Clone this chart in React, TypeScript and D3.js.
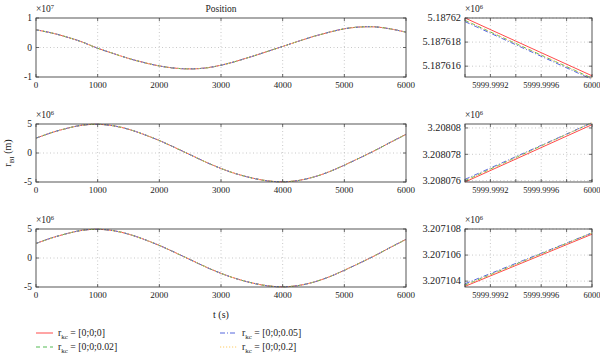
import React from "react";
import * as d3 from "d3";

// ---------- data (values in units of 1e6 m) ----------
const tFull = [0, 250, 500, 750, 1000, 1250, 1500, 1750, 2000, 2250, 2500, 2750, 3000, 3250, 3500, 3750, 4000, 4250, 4500, 4750, 5000, 5250, 5500, 5750, 6000];
const posX = [6.0, 4.95, 3.55, 1.85, -0.25, -2.0, -3.7, -5.1, -6.25, -7.0, -7.25, -6.95, -6.0, -4.65, -3.05, -1.35, 0.35, 2.1, 3.75, 5.15, 6.35, 6.95, 7.0, 6.3, 5.19];
const posY = [2.56, 3.5, 4.25, 4.8, 4.95, 4.7, 4.1, 3.2, 2.15, 0.95, -0.3, -1.55, -2.67, -3.6, -4.3, -4.8, -4.97, -4.75, -4.15, -3.25, -2.1, -0.85, 0.45, 1.85, 3.21];
const posZ = [2.5, 3.45, 4.2, 4.78, 4.95, 4.72, 4.12, 3.22, 2.17, 0.97, -0.28, -1.53, -2.65, -3.58, -4.29, -4.79, -4.97, -4.76, -4.17, -3.27, -2.12, -0.87, 0.43, 1.84, 3.207];

const tZoom = [5999.999, 6000];
const zoomX_0 = [5.18762, 5.1876152];
const zoomX_002 = [5.1876198, 5.187615];
const zoomX_005 = [5.1876197, 5.1876149];
const zoomX_02 = [5.1876198, 5.187615];
const zoomY_0 = [3.2080759, 3.20808025];
const zoomY_002 = [3.208076, 3.2080804];
const zoomY_005 = [3.2080761, 3.2080804];
const zoomY_02 = [3.208076, 3.2080804];
const zoomZ_0 = [3.2071036, 3.2071076];
const zoomZ_002 = [3.2071037, 3.2071077];
const zoomZ_005 = [3.2071038, 3.2071077];
const zoomZ_02 = [3.2071037, 3.2071077];

const seriesNames = ["[0;0;0]", "[0;0;0.02]", "[0;0;0.05]", "[0;0;0.2]"];
const seriesColors = ["#ff4a4a", "#55bb55", "#5566dd", "#ffcc66"];
const seriesDash = ["", "4,3", "5,2,1,2", "1.2,1.8"];

const xTicksFull = [0, 1000, 2000, 3000, 4000, 5000, 6000];
const xLabelsFull = ["0", "1000", "2000", "3000", "4000", "5000", "6000"];
const xTicksZoom = [5999.999, 5999.9992, 5999.9994, 5999.9996, 5999.9998, 6000];
const xLabelsZoom = ["", "5999.9992", "", "5999.9996", "", "6000"];

const FONT = "Liberation Serif, serif";

type PanelProps = {
  x0: number; x1: number; y0: number; y1: number;
  xDomain: [number, number]; yDomain: [number, number];
  xTicks: number[]; xLabels: string[];
  yTicks: number[]; yLabels: string[];
  yGrid: number[];
  xs: number[]; ys: number[][];
  exp: string;
  xFont: number;
  yFont: number;
  curve: boolean;
};

function Panel(p: PanelProps) {
  const x = d3.scaleLinear().domain(p.xDomain).range([p.x0, p.x1]);
  const y = d3.scaleLinear().domain(p.yDomain).range([p.y1, p.y0]);
  const axisColor = "#444";
  const gridColor = "#bbb";
  return (
    <g>
      {p.xTicks.filter((t) => x(t) > p.x0 + 1 && x(t) < p.x1 - 1).map((t, i) => (
        <line key={"gx" + i} x1={x(t)} x2={x(t)} y1={p.y0} y2={p.y1} stroke={gridColor} strokeWidth={0.8} strokeDasharray="1,2.5" />
      ))}
      {p.yGrid.map((t, i) => (
        <line key={"gy" + i} x1={p.x0} x2={p.x1} y1={y(t)} y2={y(t)} stroke={gridColor} strokeWidth={0.8} strokeDasharray="1,2.5" />
      ))}
      {p.ys.map((vals, si) => {
        const line = d3.line<number>().x((_, i) => x(p.xs[i])).y((v) => y(v));
        if (p.curve) line.curve(d3.curveCatmullRom);
        return (
          <path key={"s" + si} d={line(vals) || ""} fill="none" stroke={seriesColors[si]} strokeWidth={1} strokeDasharray={seriesDash[si]} />
        );
      })}
      <rect x={p.x0} y={p.y0} width={p.x1 - p.x0} height={p.y1 - p.y0} fill="none" stroke={axisColor} strokeWidth={0.9} />
      {p.xTicks.map((t, i) => (
        <g key={"tx" + i}>
          <line x1={x(t)} x2={x(t)} y1={p.y1} y2={p.y1 - 3} stroke={axisColor} strokeWidth={0.8} />
          <line x1={x(t)} x2={x(t)} y1={p.y0} y2={p.y0 + 3} stroke={axisColor} strokeWidth={0.8} />
          <text x={x(t)} y={p.y1 + 11} textAnchor="middle" fontSize={p.xFont} fill="#222">{p.xLabels[i]}</text>
        </g>
      ))}
      {p.yTicks.map((t, i) => (
        <g key={"ty" + i}>
          <line x1={p.x0} x2={p.x0 + 3} y1={y(t)} y2={y(t)} stroke={axisColor} strokeWidth={0.8} />
          <line x1={p.x1} x2={p.x1 - 3} y1={y(t)} y2={y(t)} stroke={axisColor} strokeWidth={0.8} />
          <text x={p.x0 - 4} y={y(t) + 3.2} textAnchor="end" fontSize={p.yFont} fill="#222">{p.yLabels[i]}</text>
        </g>
      ))}
      <text x={p.x0} y={p.y0 - 6} fontSize={9.5} fill="#222">
        ×10<tspan dy={-3.5} fontSize={6.5}>{p.exp}</tspan>
      </text>
    </g>
  );
}

const rows = [
  { y0: 18, y1: 77 },
  { y0: 124, y1: 182 },
  { y0: 229, y1: 287 },
];

export default function App() {
  const L = { x0: 36, x1: 406 };
  const R = { x0: 465, x1: 592 };
  const leftData = [posX, posY, posZ];
  const leftDomains: [number, number][] = [[-10, 10], [-5, 5], [-5, 5]];
  const leftYTicks = [[-10, 0, 10], [-5, 0, 5], [-5, 0, 5]];
  const leftYLabels = [["-1", "0", "1"], ["-5", "0", "5"], ["-5", "0", "5"]];
  const leftExp = ["7", "6", "6"];
  const rightData = [
    [zoomX_0, zoomX_002, zoomX_005, zoomX_02],
    [zoomY_0, zoomY_002, zoomY_005, zoomY_02],
    [zoomZ_0, zoomZ_002, zoomZ_005, zoomZ_02],
  ];
  const rightDomains: [number, number][] = [[5.1876151, 5.18762], [3.2080759, 3.2080803], [3.20710355, 3.207108]];
  const rightYTicks = [[5.187616, 5.187618, 5.18762], [3.208076, 3.208078, 3.20808], [3.207104, 3.207106, 3.207108]];
  const rightYLabels = [["5.187616", "5.187618", "5.18762"], ["3.208076", "3.208078", "3.20808"], ["3.207104", "3.207106", "3.207108"]];

  const legendItems = [
    { i: 0, x: 36, y: 333 },
    { i: 1, x: 36, y: 347 },
    { i: 2, x: 220, y: 333 },
    { i: 3, x: 220, y: 347 },
  ];

  return (
    <svg width={600} height={355} fontFamily={FONT} style={{ position: "absolute", left: 0, top: 0, background: "#fff", fontFamily: FONT }}>
      <rect x={0} y={0} width={600} height={355} fill="#fff" />
      <text x={(L.x0 + L.x1) / 2} y={12} textAnchor="middle" fontSize={9.5} fill="#222">Position</text>
      {rows.map((r, k) => (
        <g key={"row" + k}>
          <Panel
            x0={L.x0} x1={L.x1} y0={r.y0} y1={r.y1}
            xDomain={[0, 6000]} yDomain={leftDomains[k]}
            xTicks={xTicksFull} xLabels={xLabelsFull}
            yTicks={leftYTicks[k]} yLabels={leftYLabels[k]} yGrid={[0]}
            xs={tFull} ys={[leftData[k], leftData[k], leftData[k], leftData[k]]}
            exp={leftExp[k]} xFont={9} yFont={9.5} curve={true}
          />
          <Panel
            x0={R.x0} x1={R.x1} y0={r.y0} y1={r.y1}
            xDomain={[5999.999, 6000]} yDomain={rightDomains[k]}
            xTicks={xTicksZoom} xLabels={xLabelsZoom}
            yTicks={rightYTicks[k]} yLabels={rightYLabels[k]} yGrid={rightYTicks[k]}
            xs={tZoom} ys={rightData[k]}
            exp="6" xFont={8.5} yFont={10.3} curve={false}
          />
        </g>
      ))}
      <text transform={`translate(11,${(rows[1].y0 + rows[1].y1) / 2}) rotate(-90)`} textAnchor="middle" fontSize={10} fill="#222">
        r<tspan dy={2.5} fontSize={7}>BI</tspan><tspan dy={-2.5}> (m)</tspan>
      </text>
      <text x={(L.x0 + L.x1) / 2} y={318} textAnchor="middle" fontSize={10} fill="#222">t (s)</text>
      {legendItems.map((it) => (
        <g key={"lg" + it.i}>
          <line x1={it.x} x2={it.x + 17} y1={it.y} y2={it.y} stroke={seriesColors[it.i]} strokeWidth={1} strokeDasharray={seriesDash[it.i]} />
          <text x={it.x + 22} y={it.y + 3} fontSize={9.8} fill="#222">
            r<tspan dy={2.5} fontSize={7}>kc</tspan><tspan dy={-2.5}> = {seriesNames[it.i]}</tspan>
          </text>
        </g>
      ))}
    </svg>
  );
}
